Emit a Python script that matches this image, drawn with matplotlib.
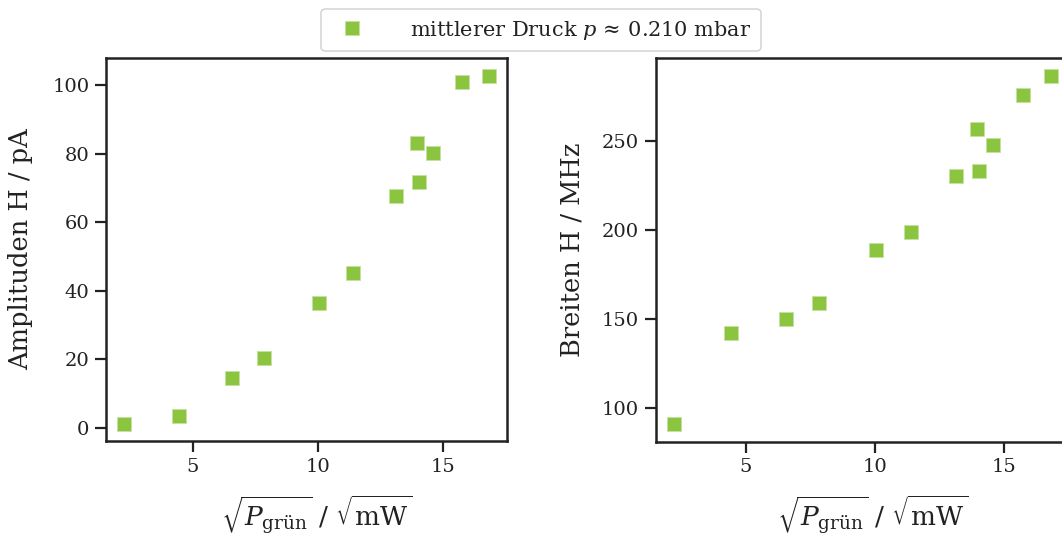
import matplotlib
matplotlib.use("Agg")
import matplotlib.pyplot as plt
from matplotlib.lines import Line2D

plt.rcParams['font.family'] = ['DejaVu Serif']
plt.rcParams['mathtext.fontset'] = 'dejavuserif'

# Data
sqrt_power = [2.22, 4.42, 6.55, 7.84, 10.03, 11.41, 13.13, 13.94, 14.04, 14.58, 15.75, 16.82]
amplitudes = [1.0, 3.4, 14.5, 20.4, 36.4, 45.2, 67.5, 83.1, 71.8, 80.2, 100.9, 102.6]
widths = [91.0, 142.4, 149.9, 159.0, 188.7, 199.0, 230.2, 256.4, 233.1, 247.9, 275.4, 286.1]
legend_label = r'mittlerer Druck $p\,\approx\,0.210$ mbar'
xlabel = r'$\sqrt{P_{\mathrm{grün}}}\ /\ \sqrt{\mathrm{mW}}$'

color = '#8bc540'
W, H = 1062, 552
fig = plt.figure(figsize=(W / 100, H / 100), dpi=100)

ax1 = fig.add_axes([106 / W, 1 - 441 / H, 401 / W, 383 / H])
ax2 = fig.add_axes([655.7 / W, 1 - 441.7 / H, 413.3 / W, 383.7 / H])

for ax, y, ylab, ylim, yt, ylx in [
    (ax1, amplitudes, 'Amplituden H / pA', (-3.9, 107.9), [0, 20, 40, 60, 80, 100], -0.182),
    (ax2, widths, 'Breiten H / MHz', (81.3, 296.4), [100, 150, 200, 250], -0.173),
]:
    ax.plot(sqrt_power, y, 's', color=color, markersize=10.5,
            markeredgecolor='#c5e2a0', markeredgewidth=0.6, linestyle='none')
    ax.set_xlim(1.52, 17.56 if ax is ax1 else 17.52)
    ax.set_ylim(*ylim)
    ax.set_xticks([5, 10, 15])
    ax.set_yticks(yt)
    ax.tick_params(direction='out', length=8, width=1.6, labelsize=14,
                   color='#222222', labelcolor='#222222', pad=4)
    for s in ax.spines.values():
        s.set_linewidth(1.8)
        s.set_color('#222222')
    ax.set_ylabel(ylab, fontsize=18.5, color='#222222')
    ax.yaxis.set_label_coords(ylx, 0.5)
    ax.set_xlabel(xlabel, fontsize=19, color='#222222')
    ax.xaxis.set_label_coords(0.5 + 10 / 401, -0.135)

handle = Line2D([], [], marker='s', color=color, markersize=10.5,
                markeredgecolor='#c5e2a0', markeredgewidth=0.6, linestyle='none')
leg = fig.legend([handle], [legend_label], loc='center', bbox_to_anchor=(541 / W, 1 - 30 / H),
                 fontsize=15, frameon=True, fancybox=True, handletextpad=1.8,
                 borderpad=0.45, handlelength=2.0, borderaxespad=0.3)
leg.get_frame().set_edgecolor('#cccccc')
leg.get_frame().set_linewidth(1.2)
for t in leg.get_texts():
    t.set_color('#222222')

fig.savefig('out.png', dpi=100)
